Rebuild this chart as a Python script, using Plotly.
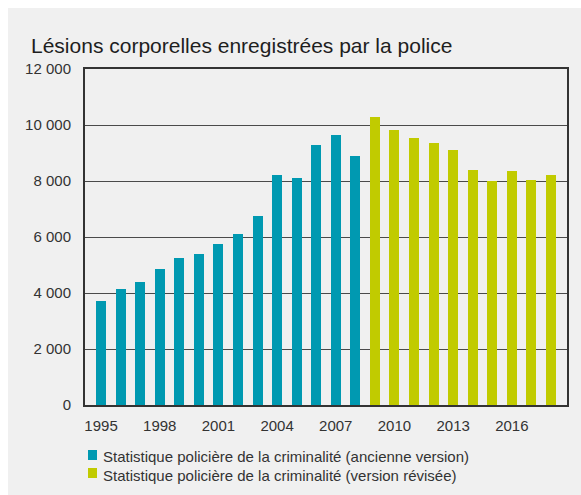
import plotly.graph_objects as go

# Police-recorded bodily injuries, by year
years_old = list(range(1995, 2009))
values_old = [3730, 4150, 4400, 4860, 5250, 5400, 5750, 6100, 6750, 8200, 8100, 9270, 9660, 8880]

years_new = list(range(2009, 2019))
values_new = [10300, 9830, 9530, 9350, 9100, 8380, 7990, 8340, 8020, 8200]

name_old = "Statistique policière de la criminalité (ancienne version)"
name_new = "Statistique policière de la criminalité (version révisée)"

x_ticks = [1995, 1998, 2001, 2004, 2007, 2010, 2013, 2016]
y_ticks = [0, 2000, 4000, 6000, 8000, 10000, 12000]
y_ticklabels = ["0", "2 000", "4 000", "6 000", "8 000", "10 000", "12 000"]

color_old = "#0099b1"
color_new = "#c1cb00"
panel_bg = "#f0f0f0"
text_col = "#333333"
font_family = "Liberation Sans, Arial, sans-serif"

W, H = 581, 495
ml, mr, mt, mb = 85, 14, 69, 90
pw, ph = W - ml - mr, H - mt - mb


def px_x(x):
    return (x - ml) / pw


def px_y(y):
    return (H - mb - y) / ph


fig = go.Figure()
fig.add_trace(go.Bar(x=years_old, y=values_old, name=name_old,
                     marker=dict(color=color_old, line=dict(width=0)), width=0.51))
fig.add_trace(go.Bar(x=years_new, y=values_new, name=name_new,
                     marker=dict(color=color_new, line=dict(width=0)), width=0.51))

shapes = [
    # grey panel behind everything
    dict(type="rect", xref="paper", yref="paper", layer="below",
         x0=px_x(8), x1=px_x(W + 5), y0=px_y(H + 5), y1=px_y(8),
         fillcolor=panel_bg, line=dict(width=0)),
]
annotations = []

# legend drawn as small squares with labels
legend_rows = [(name_old, color_old, 455, 456.5), (name_new, color_new, 473, 475)]
for label, col, ys, yt in legend_rows:
    shapes.append(dict(type="rect", xref="paper", yref="paper",
                       x0=px_x(88), x1=px_x(97), y0=px_y(ys + 5), y1=px_y(ys - 5),
                       fillcolor=col, line=dict(width=0)))
    annotations.append(dict(text=label, xref="paper", yref="paper",
                            x=px_x(101), y=px_y(yt), xanchor="left", yanchor="middle",
                            showarrow=False, font=dict(size=15, color=text_col)))

fig.update_layout(
    width=W, height=H,
    margin=dict(l=ml, r=mr, t=mt, b=mb),
    paper_bgcolor="white",
    plot_bgcolor=panel_bg,
    font=dict(family=font_family, color=text_col, size=15),
    showlegend=False,
    title=dict(text="Lésions corporelles enregistrées par la police",
               x=31 / W, xanchor="left", xref="container",
               y=1 - 46 / H, yanchor="middle", yref="container",
               font=dict(size=21, color="#1e1e1e")),
    shapes=shapes,
    annotations=annotations,
    bargap=0,
)

fig.update_xaxes(range=[1994.18, 2018.82], tickvals=x_ticks,
                 ticktext=[str(t) for t in x_ticks],
                 showgrid=False, zeroline=False,
                 showline=True, linecolor="#333333", linewidth=2, mirror=True,
                 ticks="", ticklabelstandoff=6,
                 tickfont=dict(size=15, color=text_col))
fig.update_yaxes(range=[0, 12000], tickvals=y_ticks, ticktext=y_ticklabels,
                 showgrid=True, gridcolor="#4a4a4a", gridwidth=1,
                 zeroline=False,
                 showline=True, linecolor="#333333", linewidth=2, mirror=True,
                 ticks="", ticklabelstandoff=9,
                 tickfont=dict(size=15, color=text_col))

fig.write_html("out.html")
